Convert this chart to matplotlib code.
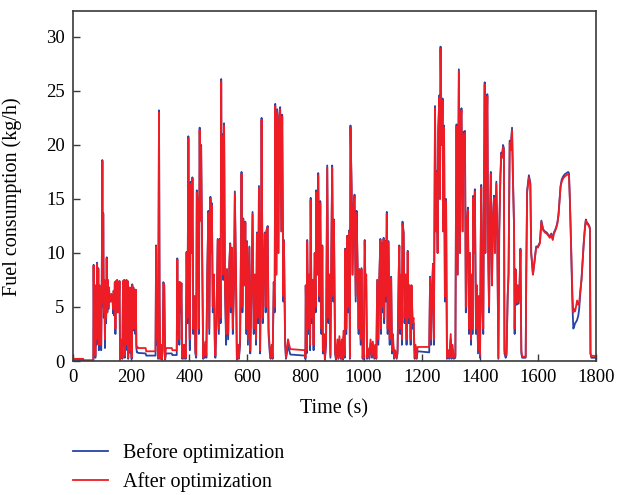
import matplotlib
matplotlib.use("Agg")
import matplotlib.pyplot as plt

# Time (s)
time_s = [0, 35, 38, 70, 71, 73, 75, 77, 79, 81, 83, 85, 87, 89, 91, 93, 95, 97, 99, 101, 103, 104, 106, 108, 110,
          112, 114, 116, 118, 120, 122, 124, 126, 128, 130, 132, 134, 136, 138, 140, 142, 144, 146, 148, 150, 152,
          154, 156, 158, 160, 162, 164, 166, 168, 170, 172, 174, 176, 178, 180, 182, 184, 186, 188, 190, 192, 194,
          196, 198, 200, 202, 204, 206, 208, 210, 212, 214, 216, 218, 220, 222, 224, 250, 252, 284, 286, 288, 290,
          293, 296, 298, 300, 303, 306, 309, 311, 314, 317, 320, 340, 342, 357, 359, 361, 363, 366, 368, 371, 373,
          376, 379, 382, 385, 388, 391, 394, 397, 400, 402, 405, 409, 411, 414, 419, 421, 424, 426, 430, 433, 436,
          438, 441, 445, 448, 451, 453, 456, 459, 462, 466, 469, 473, 476, 478, 481, 485, 488, 490, 494, 498, 502,
          505, 508, 510, 512, 514, 517, 520, 523, 527, 530, 534, 538, 541, 543, 547, 550, 554, 557, 561, 564, 568,
          571, 575, 578, 580, 583, 586, 590, 593, 597, 599, 602, 607, 610, 614, 618, 622, 626, 630, 633, 637, 640,
          644, 647, 649, 653, 656, 660, 663, 666, 670, 673, 677, 680, 684, 687, 691, 694, 696, 700, 703, 707, 710,
          713, 717, 720, 724, 726, 730, 733, 737, 740, 744, 748, 798, 800, 801, 804, 806, 810, 813, 816, 818, 821,
          825, 828, 832, 835, 837, 841, 844, 848, 851, 855, 858, 860, 864, 867, 871, 875, 879, 882, 886, 889, 892,
          896, 898, 902, 905, 910, 913, 917, 921, 925, 928, 931, 935, 937, 941, 944, 947, 951, 953, 955, 959, 962,
          966, 969, 973, 976, 980, 983, 986, 990, 993, 997, 998, 1001, 1004, 1007, 1009, 1012, 1015, 1020, 1024,
          1029, 1032, 1037, 1040, 1044, 1047, 1051, 1054, 1058, 1060, 1063, 1066, 1069, 1071, 1075, 1077, 1080,
          1083, 1086, 1090, 1093, 1095, 1098, 1101, 1105, 1109, 1114, 1117, 1121, 1123, 1126, 1130, 1132, 1134,
          1138, 1141, 1145, 1148, 1152, 1155, 1159, 1162, 1165, 1169, 1172, 1176, 1179, 1183, 1186, 1226, 1229,
          1232, 1235, 1239, 1242, 1246, 1249, 1252, 1255, 1257, 1261, 1263, 1265, 1269, 1272, 1274, 1277, 1280,
          1284, 1287, 1292, 1295, 1300, 1303, 1306, 1311, 1316, 1318, 1320, 1324, 1328, 1332, 1334, 1337, 1341,
          1344, 1349, 1352, 1356, 1359, 1363, 1366, 1370, 1373, 1375, 1378, 1380, 1383, 1387, 1390, 1394, 1397,
          1401, 1403, 1405, 1409, 1412, 1414, 1417, 1419, 1422, 1426, 1429, 1432, 1435, 1438, 1442, 1445, 1449,
          1452, 1457, 1460, 1464, 1467, 1471, 1474, 1477, 1480, 1483, 1485, 1489, 1492, 1496, 1499, 1503, 1506,
          1511, 1514, 1518, 1520, 1523, 1527, 1530, 1534, 1537, 1540, 1543, 1546, 1558, 1560, 1563, 1566, 1569,
          1574, 1577, 1583, 1589, 1594, 1600, 1607, 1612, 1618, 1624, 1630, 1636, 1641, 1646, 1651, 1655, 1659,
          1663, 1667, 1671, 1674, 1678, 1682, 1687, 1693, 1699, 1704, 1707, 1710, 1713, 1716, 1719, 1722, 1725,
          1728, 1731, 1735, 1739, 1742, 1746, 1750, 1754, 1758, 1762, 1765, 1769, 1773, 1777, 1779, 1781, 1784,
          1790, 1800]

# Fuel consumption after optimization (kg/h)
fuel_after = [0.2, 0.2, 0.05, 0.05, 8.8, 1.0, 5.5, 0.5, 7.0, 2.0, 9.0, 3.0, 8.5, 1.5, 7.0, 2.5, 6.5, 1.5, 7.5, 18.5,
              5.5, 13.6, 4.5, 7.5, 2.0, 7.0, 4.0, 9.5, 4.5, 7.5, 5.0, 6.8, 5.5, 6.0, 5.5, 6.2, 5.7, 5.9, 4.8, 6.5,
              5.0, 7.3, 3.0, 7.4, 5.0, 7.5, 4.5, 7.3, 5.0, 7.4, 0.1, 2.0, 1.0, 1.3, 0.3, 7.4, 2.0, 7.5, 0.5, 7.3,
              1.5, 7.5, 3.0, 7.4, 0.3, 6.5, 2.0, 6.8, 1.0, 3.0, 0.3, 7.0, 3.0, 6.7, 4.0, 6.5, 3.0, 6.6, 1.5, 1.2,
              1.3, 1.2, 1.2, 0.9, 0.9, 10.6, 2.0, 6.0, 0.3, 23.0, 6.0, 0.2, 1.5, 0.2, 1.5, 7.2, 7.0, 0.2, 1.2, 1.2,
              1.0, 1.0, 9.4, 3.0, 7.3, 2.0, 7.3, 5.0, 7.2, 0.3, 1.5, 0.3, 1.5, 0.3, 10.0, 4.0, 20.6, 5.0, 2.0, 16.4,
              10.0, 16.9, 3.0, 6.0, 1.0, 0.5, 15.6, 14.5, 3.0, 21.4, 13.0, 19.8, 8.8, 0.3, 1.5, 0.5, 1.8, 0.5, 8.0,
              13.7, 3.0, 15.0, 10.0, 14.4, 5.0, 8.0, 2.0, 0.5, 4.0, 11.2, 3.0, 11.2, 4.0, 25.9, 12.0, 20.8, 8.0,
              21.8, 7.0, 2.5, 8.5, 2.5, 9.0, 10.8, 5.0, 10.4, 3.0, 7.0, 15.5, 8.0, 0.2, 1.5, 0.3, 2.0, 10.2, 17.3,
              5.0, 13.1, 7.0, 12.8, 3.0, 11.0, 2.0, 10.5, 1.0, 6.0, 13.6, 3.0, 8.0, 2.0, 11.8, 4.0, 16.0, 1.0, 10.0,
              22.3, 4.0, 8.0, 11.8, 5.0, 12.0, 12.4, 3.0, 1.2, 0.3, 1.5, 0.3, 7.3, 5.0, 23.6, 8.0, 23.1, 10.0, 22.4,
              23.3, 12.0, 22.6, 6.0, 11.1, 2.0, 0.3, 1.2, 2.0, 1.5, 1.1, 1.0, 0.3, 7.0, 1.0, 11.1, 3.0, 8.0, 1.5,
              14.9, 4.0, 7.5, 1.5, 10.0, 5.0, 15.6, 8.0, 17.2, 6.0, 14.6, 3.0, 10.6, 1.0, 2.5, 0.2, 2.0, 17.9, 4.0,
              8.0, 0.5, 10.0, 17.9, 6.0, 13.0, 1.0, 0.2, 2.0, 0.3, 2.3, 0.3, 2.0, 0.2, 2.8, 0.5, 10.3, 3.0, 11.5,
              5.0, 12.0, 0.3, 21.6, 15.8, 8.0, 14.3, 15.2, 6.0, 13.7, 8.0, 3.0, 8.5, 2.0, 8.5, 0.3, 1.0, 0.3, 11.1,
              6.0, 8.0, 0.3, 1.2, 0.3, 2.0, 0.5, 1.8, 0.3, 1.5, 0.3, 7.5, 2.0, 7.5, 11.2, 3.0, 10.8, 5.0, 11.3, 4.0,
              11.0, 6.0, 13.6, 3.0, 11.0, 2.0, 7.0, 7.7, 1.0, 2.5, 0.3, 1.0, 0.3, 1.0, 8.0, 10.6, 3.0, 8.0, 2.0,
              12.7, 11.8, 4.0, 8.0, 2.0, 10.1, 4.0, 7.0, 2.0, 7.0, 3.5, 4.0, 0.3, 1.5, 0.3, 1.3, 1.3, 7.7, 2.0, 6.0,
              8.9, 2.0, 23.4, 12.0, 17.4, 10.0, 21.2, 24.4, 15.0, 28.9, 20.0, 24.1, 12.0, 21.6, 6.0, 14.8, 0.3, 1.0,
              0.3, 2.5, 0.3, 1.5, 0.3, 0.5, 14.0, 21.7, 8.0, 26.8, 10.0, 22.0, 23.2, 12.0, 21.0, 21.1, 5.0, 12.8,
              14.0, 3.0, 10.0, 2.0, 8.0, 3.0, 15.1, 10.0, 15.7, 3.0, 7.0, 1.0, 6.0, 0.5, 10.0, 16.1, 5.0, 3.0, 14.0,
              25.6, 10.0, 17.9, 24.5, 10.0, 5.0, 13.0, 17.3, 7.0, 13.0, 15.1, 10.0, 16.4, 12.0, 0.3, 12.0, 17.0,
              19.1, 18.8, 19.8, 19.5, 1.0, 0.5, 0.7, 6.0, 8.0, 20.2, 19.5, 21.4, 17.0, 12.3, 3.0, 8.4, 5.4, 7.0, 5.5,
              7.1, 10.3, 1.0, 0.4, 0.4, 8.1, 15.6, 16.3, 17.0, 16.3, 10.0, 8.0, 9.3, 10.5, 10.5, 10.9, 12.9, 12.1,
              11.9, 11.8, 11.6, 11.4, 11.7, 11.2, 11.8, 12.0, 12.3, 12.7, 13.5, 14.6, 16.1, 16.6, 16.9, 17.1, 17.2,
              17.3, 17.2, 15.0, 12.0, 9.0, 6.0, 4.5, 4.8, 4.6, 5.0, 5.6, 5.2, 5.3, 6.5, 7.5, 9.3, 11.0, 12.3, 13.0,
              12.7, 12.6, 12.4, 12.2, 0.7, 0.4, 0.5, 0.4]

# Fuel consumption before optimization (kg/h)
fuel_before = [0.1, 0.1, 0.05, 0.05, 8.9, 0.8, 5.5, 0.3, 7.0, 1.5, 9.1, 2.5, 8.6, 1.0, 7.0, 2.0, 6.5, 1.0, 7.5, 18.6,
               5.0, 13.7, 4.0, 7.5, 1.2, 7.0, 3.5, 9.6, 4.5, 7.5, 4.8, 6.8, 5.5, 6.0, 5.5, 6.2, 5.7, 5.9, 4.4, 6.5,
               4.2, 7.3, 2.5, 7.4, 4.8, 7.5, 4.5, 7.3, 5.0, 7.4, 0.1, 1.5, 0.7, 0.9, 0.2, 7.4, 1.5, 7.5, 0.3, 7.3,
               1.0, 7.5, 2.5, 7.4, 0.2, 6.5, 1.5, 6.8, 0.7, 2.5, 0.2, 7.1, 2.8, 6.8, 3.5, 6.5, 2.5, 6.6, 1.2, 0.8,
               0.8, 0.75, 0.7, 0.5, 0.5, 10.7, 1.5, 6.0, 0.2, 23.2, 5.5, 0.2, 1.2, 0.1, 1.0, 7.3, 7.0, 0.1, 0.7, 0.7,
               0.55, 0.55, 9.5, 2.5, 7.3, 1.5, 7.3, 4.5, 7.2, 0.2, 1.0, 0.2, 1.0, 0.2, 10.1, 3.5, 20.8, 4.5, 1.0,
               16.6, 10.0, 17.0, 2.5, 6.0, 0.7, 0.3, 15.8, 14.6, 2.5, 21.6, 13.0, 20.0, 8.8, 0.2, 1.2, 0.3, 1.5, 0.3,
               8.0, 13.9, 2.5, 15.2, 10.0, 14.6, 4.5, 8.0, 1.5, 0.3, 3.5, 11.3, 2.5, 11.3, 3.5, 26.1, 12.0, 21.0,
               7.5, 22.0, 6.5, 1.5, 8.5, 2.0, 9.0, 10.9, 4.5, 10.5, 2.5, 7.0, 15.7, 8.0, 0.1, 1.2, 0.2, 1.5, 10.3,
               17.5, 4.5, 13.2, 7.0, 12.9, 2.5, 11.1, 1.5, 10.6, 0.7, 6.0, 13.8, 2.5, 8.0, 1.5, 11.9, 3.5, 16.2, 0.7,
               10.0, 22.5, 3.5, 8.0, 11.9, 4.5, 12.1, 12.5, 2.5, 0.8, 0.2, 1.0, 0.2, 7.3, 4.5, 23.8, 8.0, 23.3, 10.0,
               22.6, 23.5, 12.0, 22.8, 5.5, 11.2, 1.5, 0.2, 0.9, 1.6, 1.0, 0.6, 0.5, 0.2, 7.0, 0.7, 11.2, 2.5, 8.0,
               1.0, 15.1, 3.5, 7.5, 1.0, 10.0, 4.5, 15.8, 8.0, 17.4, 5.5, 14.8, 2.5, 10.7, 0.7, 2.0, 0.1, 1.5, 18.1,
               3.5, 8.0, 0.3, 10.0, 18.1, 5.5, 13.1, 0.7, 0.1, 1.5, 0.2, 1.8, 0.2, 1.5, 0.1, 2.3, 0.3, 10.4, 2.5,
               11.6, 4.5, 12.1, 0.2, 21.8, 16.0, 8.0, 14.5, 15.4, 5.5, 13.9, 8.0, 2.5, 8.5, 1.5, 8.6, 0.2, 0.7, 0.2,
               11.2, 6.0, 8.0, 0.2, 0.9, 0.2, 1.6, 0.3, 1.4, 0.2, 1.1, 0.2, 7.5, 1.5, 7.5, 11.3, 2.5, 10.9, 4.5,
               11.4, 3.5, 11.1, 5.5, 13.8, 2.5, 11.1, 1.5, 7.0, 7.8, 0.7, 2.0, 0.2, 0.7, 0.2, 0.7, 8.0, 10.7, 2.5,
               8.0, 1.5, 12.9, 11.9, 3.5, 8.0, 1.5, 10.2, 3.5, 7.0, 1.5, 7.0, 3.0, 3.5, 0.2, 1.0, 0.2, 0.9, 0.8, 7.8,
               1.5, 6.0, 9.0, 1.5, 23.6, 12.0, 17.6, 10.0, 21.4, 24.6, 15.0, 29.1, 20.0, 24.3, 12.0, 21.8, 5.5, 15.0,
               0.2, 0.7, 0.2, 2.0, 0.2, 1.1, 0.2, 0.3, 14.0, 21.9, 8.0, 27.0, 10.0, 22.0, 23.4, 12.0, 21.2, 21.3,
               4.5, 13.0, 14.2, 2.5, 10.0, 1.5, 8.0, 2.5, 15.3, 10.0, 15.9, 2.5, 7.0, 0.7, 6.0, 0.3, 10.0, 16.3, 4.5,
               2.5, 14.0, 25.8, 10.0, 18.0, 24.7, 10.0, 4.5, 13.0, 17.5, 7.0, 13.0, 15.3, 10.0, 16.6, 12.0, 0.2,
               12.0, 17.2, 19.3, 19.0, 20.0, 19.7, 0.7, 0.3, 0.5, 6.0, 8.0, 20.4, 19.7, 21.6, 17.2, 12.4, 2.5, 8.5,
               5.2, 7.0, 5.3, 7.2, 10.4, 0.7, 0.3, 0.3, 8.2, 15.8, 16.5, 17.2, 16.5, 10.0, 8.0, 9.4, 10.6, 10.6, 11.0,
               13.0, 12.2, 12.0, 11.9, 11.7, 11.5, 11.8, 11.3, 11.9, 12.1, 12.4, 12.8, 13.6, 14.7, 16.2, 16.8, 17.1,
               17.3, 17.4, 17.5, 17.4, 15.0, 12.0, 8.5, 5.0, 3.0, 3.2, 3.5, 3.6, 3.8, 4.2, 4.8, 6.3, 7.5, 9.3, 11.0,
               12.4, 13.1, 12.8, 12.7, 12.5, 12.3, 0.7, 0.3, 0.3, 0.3]

x_ticks = [0, 200, 400, 600, 800, 1000, 1200, 1400, 1600, 1800]
y_ticks = [0, 5, 10, 15, 20, 25, 30]
series_labels = ["Before optimization", "After optimization"]

plt.rcParams['font.family'] = ['Liberation Serif', 'DejaVu Serif']

fig = plt.figure(figsize=(6.18, 4.95), dpi=100)
ax = fig.add_axes([73 / 618, (495 - 361) / 495, (596 - 73) / 618, (361 - 11) / 495])

blue = '#2843a6'
red = '#ee1d25'
lb, = ax.plot(time_s, fuel_before, color=blue, lw=1.3, label=series_labels[0])
la, = ax.plot(time_s, fuel_after, color=red, lw=1.3, label=series_labels[1])

ax.set_xlim(0, 1800)
ax.set_ylim(0, 32.4)
ax.set_xticks(x_ticks)
ax.set_yticks(y_ticks)
ax.tick_params(direction='in', length=5, width=1.0, color='#3a3a3a', labelsize=13.5, pad=6)
for sp in ax.spines.values():
    sp.set_color('#3a3a3a')
    sp.set_linewidth(1.2)

ax.set_xlabel("Time (s)", fontsize=14.5, labelpad=9)
ax.set_ylabel("Fuel consumption (kg/h)", fontsize=14.5)
ax.yaxis.set_label_coords(-0.098, 0.47)

fig.legend(handles=[lb, la], labels=series_labels, loc='upper left',
           bbox_to_anchor=(73 / 618, 1 - 443 / 495), frameon=False, fontsize=14.5,
           borderpad=0, borderaxespad=0, handlelength=1.75, handletextpad=0.75,
           labelspacing=0.45)

fig.savefig("out.png", dpi=100)
